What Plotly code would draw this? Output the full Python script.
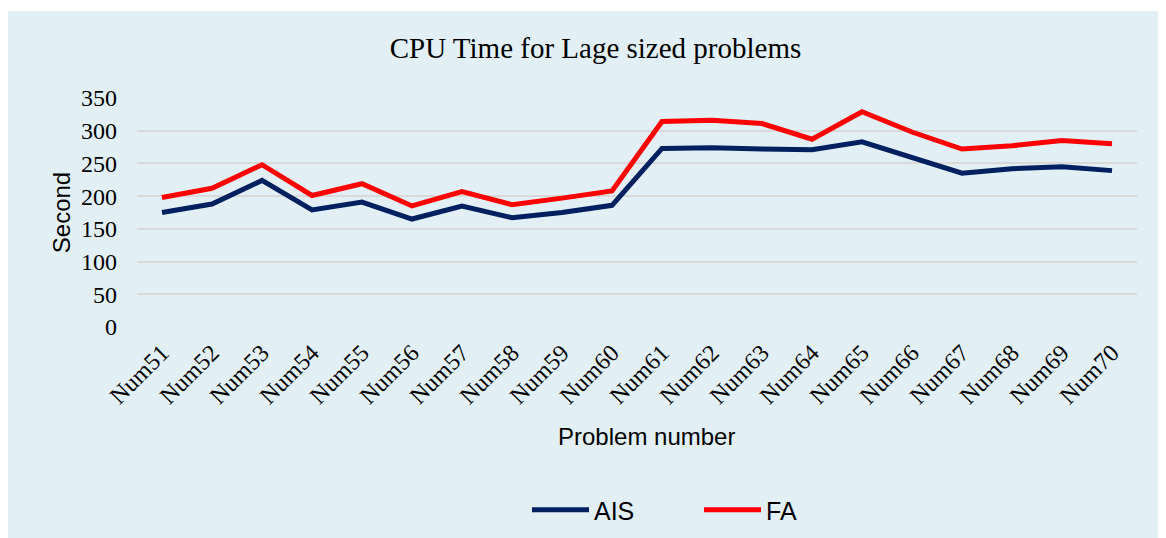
import plotly.graph_objects as go

problems = [f"Num{i}" for i in range(51, 71)]
ais = [175, 188, 224, 179, 191, 165, 185, 167, 175, 186,
       273, 274, 272, 271, 283, 258, 235, 242, 245, 239]
fa = [198, 212, 248, 201, 219, 185, 207, 187, 197, 208,
      314, 316, 311, 287, 329, 298, 272, 277, 285, 280]
y_ticks = [0, 50, 100, 150, 200, 250, 300, 350]

BG = "#E2F0F6"
SERIF = "Liberation Serif, Times New Roman, serif"
SANS = "Liberation Sans, Arial, sans-serif"

fig = go.Figure()
fig.add_trace(go.Scatter(x=problems, y=ais, name="AIS", mode="lines",
                         line=dict(color="#002060", width=5)))
fig.add_trace(go.Scatter(x=problems, y=fa, name="FA", mode="lines",
                         line=dict(color="#FF0000", width=5)))

# page body has an 8px margin, so figure coordinates are screen - 8
OFF = 8
W, H = 1166, 538
L, T = 137 - OFF, 98 - OFF
R = W - (1137 - OFF)
B = H - (327 - OFF)
pw, ph = W - L - R, H - T - B
fig.add_shape(type="rect", xref="paper", yref="paper", layer="below",
              x0=(8 - OFF - L) / pw, x1=(W - L + 5) / pw,
              y0=-(B + 5) / ph, y1=(T - (11 - OFF)) / ph + 1,
              fillcolor=BG, line=dict(width=0))

fig.add_annotation(text="Problem number", xref="paper", yref="paper",
                   x=(646 - 137) / pw, y=-(436 - 327) / ph,
                   xanchor="center", yanchor="middle", showarrow=False,
                   font=dict(family=SANS, size=24, color="#000000"))

fig.update_layout(
    width=W, height=H,
    margin=dict(l=L, r=R, t=T, b=B, autoexpand=False),
    paper_bgcolor="white", plot_bgcolor=BG,
    title=dict(text="CPU Time for Lage sized problems", x=(595.5 - OFF) / W,
               xanchor="center", y=1 - (48 - OFF) / H, yanchor="middle",
               font=dict(family=SERIF, size=29, color="#000000")),
    xaxis=dict(range=[-0.5, 19.5], tickangle=-45, showgrid=False,
               tickfont=dict(family=SERIF, size=24, color="#000000"),
               showline=False, zeroline=False, ticks="", automargin=False,
               ticklabelstandoff=6),
    yaxis=dict(range=[0, 350], tickvals=y_ticks, showgrid=True,
               gridcolor="#D9D9D9", gridwidth=1.5, zeroline=False,
               tickfont=dict(family=SERIF, size=24, color="#000000"),
               title=dict(text="Second", standoff=3,
                          font=dict(family=SANS, size=24, color="#000000")),
               ticks="", ticklabelstandoff=19, automargin=False),
    legend=dict(orientation="h", x=(527 - OFF - L) / pw, xanchor="left",
                y=-(510 - OFF - T - ph) / ph, yanchor="middle",
                font=dict(family=SANS, size=25, color="#000000"),
                bgcolor="rgba(0,0,0,0)", tracegroupgap=0, itemwidth=57,
                entrywidthmode="pixels", entrywidth=100),
)

fig.write_html("out.html")
